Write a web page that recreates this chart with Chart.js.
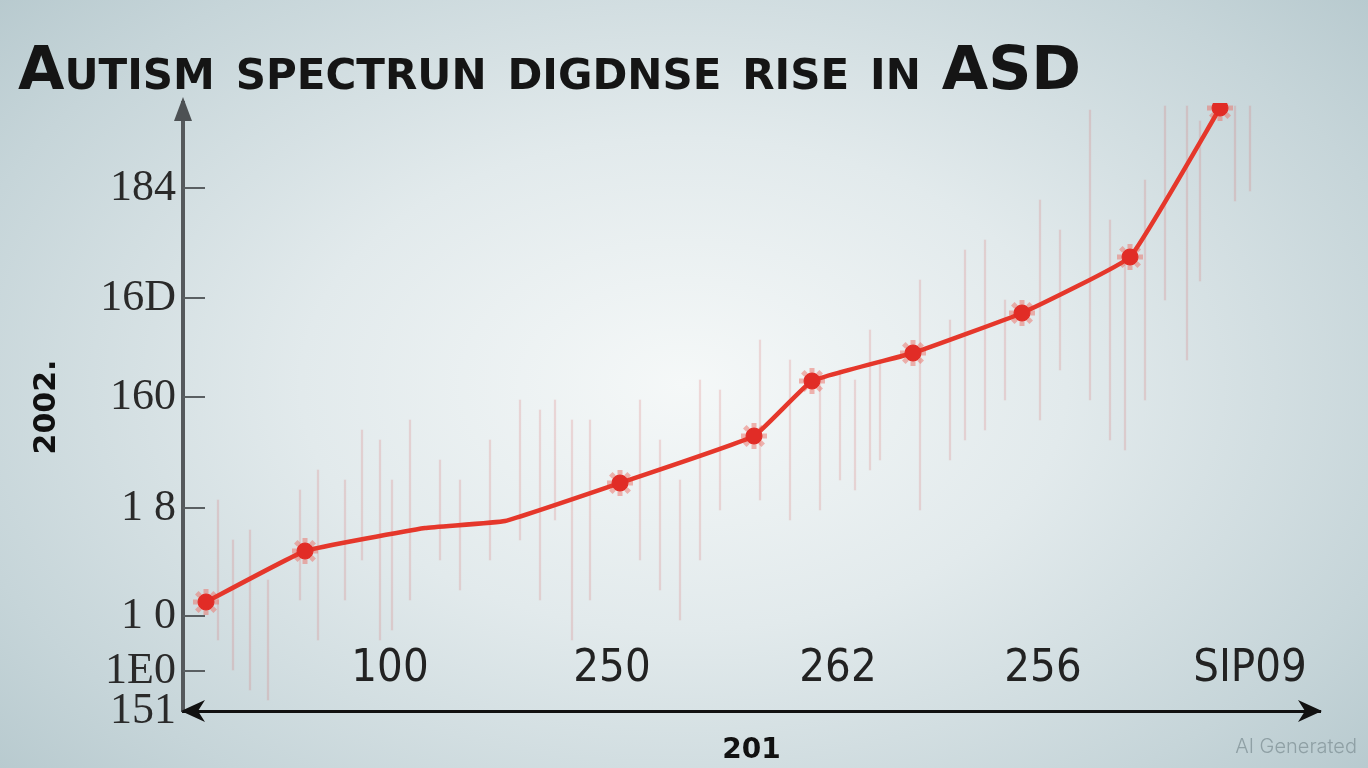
<!DOCTYPE html>
<html>
<head>
<meta charset="utf-8">
<script src="https://cdn.jsdelivr.net/npm/chart.js@4.4.1/dist/chart.umd.min.js"></script>
<style>
html, body { margin: 0; padding: 0; width: 1368px; height: 768px; overflow: hidden; }
body { background: radial-gradient(ellipse 70% 80% at 50% 50%, #f5f8f8 0%, #e2eaec 40%, #c6d5d9 78%, #b4c7cc 100%); }
#wrap { position: relative; width: 1368px; height: 768px; }
</style>
</head>
<body>
<div id="wrap"><canvas id="chart"></canvas></div>
<script>
// Line points (x, y in chart units), kink points carry no marker
const pointX = [2.3, 12.2, 24.2, 32.2, 43.7, 57.1, 62.9, 73.0, 83.9, 94.7, 103.7];
const pointY = [10.9, 16.0, 18.3, 19.0, 22.8, 27.5, 33.0, 35.8, 39.8, 45.4, 60.3];
const markerShown = [1, 1, 0, 0, 1, 1, 1, 1, 1, 1, 1];

// Faint vertical streaks behind the line
const streakX = [3.5, 5.0, 6.7, 8.5, 11.7, 13.5, 16.2, 17.9, 19.7, 20.9, 22.7, 25.7, 27.7, 30.7, 33.7, 35.7, 37.2, 38.9, 40.7,
    45.7, 47.7, 49.7, 51.7, 53.7, 57.7, 60.7, 63.7, 65.7, 67.2, 68.7, 69.7, 73.7, 76.7, 78.2, 80.2, 82.2, 85.7, 87.7,
    90.7, 92.7, 94.2, 96.2, 98.2, 100.4, 101.7, 105.2, 106.7];
const streakLow = [7.1, 4.1, 2.1, 1.1, 11.1, 7.1, 11.1, 15.1, 7.1, 8.1, 11.1, 15.1, 12.1, 15.1, 17.1, 11.1, 19.1, 7.1, 11.1,
    15.1, 12.1, 9.1, 15.1, 20.1, 21.1, 19.1, 20.1, 23.1, 22.1, 24.1, 25.1, 20.1, 25.1, 27.1, 28.1, 31.1, 29.1, 34.1,
    31.1, 27.1, 26.1, 31.1, 41.1, 35.1, 43.0, 51.0, 52.0];
const streakHigh = [21.1, 17.1, 18.1, 13.1, 22.1, 24.1, 23.1, 28.1, 27.1, 23.1, 29.1, 25.1, 23.1, 27.1, 31.1, 30.1, 31.1, 29.1, 29.1,
    31.1, 27.1, 23.1, 33.1, 32.1, 37.1, 35.1, 33.1, 34.1, 33.1, 38.1, 35.1, 43.1, 39.1, 46.1, 47.1, 41.1, 51.1, 48.1,
    60.1, 49.1, 46.1, 53.1, 60.5, 60.5, 59.0, 60.5, 60.5];

// Axis ticks as printed
const xTickValues = [20.7, 42.9, 65.5, 86.0, 106.7];
const xTickLabels = ['100', '250', '262', '256', 'SIP09'];
const yTickValues = [0, 4.0, 9.5, 20.3, 31.4, 41.3, 52.3];
const yTickLabels = ['151', '1E0', '1 0', '1 8', '160', '16D', '184'];

const linePoints = pointX.map((x, i) => ({ x: x, y: pointY[i] }));
const markerPoints = linePoints.filter((p, i) => markerShown[i]);
const streaks = streakX.map((x, i) => ({ x: x, y: [streakLow[i], streakHigh[i]] }));

const decorations = {
    id: 'decorations',
    afterDraw(chart) {
        const { ctx, chartArea: a, scales: { x, y } } = chart;
        ctx.save();
        // short tick marks on the inside of the y axis
        ctx.strokeStyle = '#5a5f62';
        ctx.lineWidth = 2;
        y.ticks.forEach(t => {
            if (t.value <= 0) return;
            const py = y.getPixelForValue(t.value);
            ctx.beginPath();
            ctx.moveTo(a.left, py);
            ctx.lineTo(a.left + 22, py);
            ctx.stroke();
        });
        // x tick labels sit above the axis line
        ctx.font = "45px 'DejaVu Sans Condensed', 'DejaVu Sans', sans-serif";
        ctx.fillStyle = '#222';
        ctx.textAlign = 'center';
        ctx.textBaseline = 'middle';
        xTickValues.forEach((v, i) => {
            ctx.fillText(xTickLabels[i], x.getPixelForValue(v), a.bottom - 42);
        });
        // arrow heads
        ctx.fillStyle = '#4d5154';
        ctx.beginPath();
        ctx.moveTo(a.left, a.top - 6);
        ctx.lineTo(a.left - 9, a.top + 18);
        ctx.lineTo(a.left + 9, a.top + 18);
        ctx.closePath();
        ctx.fill();
        ctx.fillStyle = '#111';
        ctx.beginPath();
        ctx.moveTo(a.right + 2, a.bottom);
        ctx.lineTo(a.right - 22, a.bottom - 11);
        ctx.lineTo(a.right - 15, a.bottom);
        ctx.lineTo(a.right - 22, a.bottom + 11);
        ctx.closePath();
        ctx.fill();
        ctx.beginPath();
        ctx.moveTo(a.left - 2, a.bottom);
        ctx.lineTo(a.left + 22, a.bottom - 11);
        ctx.lineTo(a.left + 15, a.bottom);
        ctx.lineTo(a.left + 22, a.bottom + 11);
        ctx.closePath();
        ctx.fill();
        // watermark
        ctx.font = '300 20px Inter, sans-serif';
        ctx.fillStyle = '#8fa0a5';
        ctx.textAlign = 'right';
        ctx.textBaseline = 'alphabetic';
        ctx.fillText('AI Generated', 1357, 753);
        ctx.restore();
    }
};

const ctx = document.getElementById('chart').getContext('2d');
new Chart(ctx, {
    type: 'line',
    data: {
        datasets: [
            {
                label: 'Rate',
                data: linePoints,
                borderColor: '#e5372b',
                borderWidth: 4.5,
                tension: 0.1,
                pointRadius: markerShown.map(m => m ? 8 : 0),
                pointBackgroundColor: '#e12c26',
                pointBorderColor: '#e12c26',
                pointBorderWidth: 1,
                order: 1
            },
            {
                label: 'Halo',
                data: markerPoints,
                showLine: false,
                pointStyle: 'star',
                pointRadius: 13,
                pointBorderColor: 'rgba(236, 110, 100, 0.5)',
                pointBorderWidth: 5,
                order: 2
            },
            {
                type: 'bar',
                label: 'Streaks',
                data: streaks,
                backgroundColor: 'rgba(214, 95, 95, 0.2)',
                barThickness: 1.6,
                order: 3
            }
        ]
    },
    options: {
        responsive: true,
        maintainAspectRatio: false,
        animation: false,
        layout: { padding: { left: 18, right: 48, top: 0, bottom: 0 } },
        plugins: {
            legend: { display: false },
            tooltip: { enabled: false },
            title: {
                display: true,
                text: 'Autism spectrun digdnse rise in ASD',
                align: 'start',
                color: '#151515',
                font: { family: "'DejaVu Sans', sans-serif", size: 60, weight: 'small-caps bold', lineHeight: 1 },
                padding: { top: 43, bottom: 0 }
            }
        },
        scales: {
            x: {
                type: 'linear',
                min: 0,
                max: 113.7,
                offset: false,
                afterBuildTicks: (scale) => { scale.ticks = xTickValues.map(v => ({ value: v })); },
                afterFit: (scale) => { scale.height = 57; },
                ticks: { display: false },
                grid: { display: false, drawTicks: false },
                border: { display: true, color: '#111', width: 3 },
                title: {
                    display: true,
                    text: '201',
                    color: '#111',
                    font: { family: "'DejaVu Sans', sans-serif", size: 28, weight: 'bold' },
                    padding: { top: 0, bottom: 0 }
                }
            },
            y: {
                type: 'linear',
                min: 0,
                max: 60.8,
                afterBuildTicks: (scale) => { scale.ticks = yTickValues.map(v => ({ value: v })); },
                afterFit: (scale) => { scale.width = 165; },
                ticks: {
                    padding: 7,
                    color: '#2a2a2a',
                    font: { family: "'Liberation Serif', serif", size: 44 },
                    callback: (value, index) => yTickLabels[index],
                    autoSkip: false
                },
                grid: { display: false, drawTicks: false },
                border: { display: true, color: '#55595c', width: 4 },
                title: {
                    display: true,
                    text: '2002.',
                    color: '#111',
                    font: { family: "'DejaVu Sans', sans-serif", size: 30, weight: 'bold' },
                    padding: { top: 11, bottom: 0 }
                }
            }
        }
    },
    plugins: [decorations]
});
</script>
</body>
</html>
